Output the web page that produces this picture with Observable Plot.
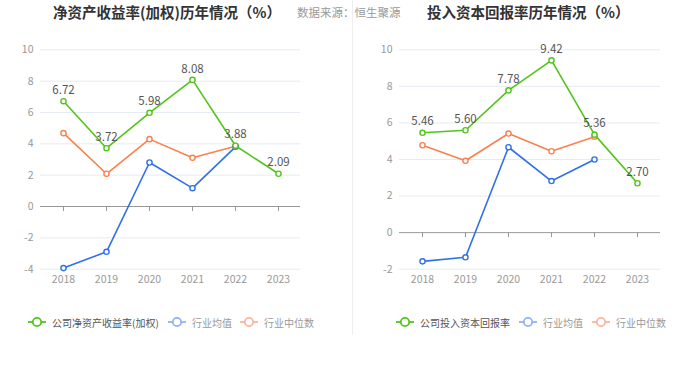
<!DOCTYPE html>
<html>
<head>
<meta charset="utf-8">
<script src="https://cdn.jsdelivr.net/npm/d3@7"></script>
<script src="https://cdn.jsdelivr.net/npm/@observablehq/plot@0.6"></script>
<style>
  html, body { margin: 0; padding: 0; background: #fff; }
  #wrap { position: relative; width: 700px; height: 377px; overflow: hidden; font-family: "Noto Sans CJK SC", "Noto Sans", sans-serif; }
  .title { position: absolute; top: 1px; font-size: 14.5px; font-weight: bold; color: #333; white-space: nowrap; line-height: 22px; }
  .source { position: absolute; top: 2px; font-size: 11.5px; color: #999; white-space: nowrap; line-height: 20px; }
  .plot { position: absolute; top: 0; }
  .sep { position: absolute; left: 352px; top: 0; width: 1px; height: 335px; background: #eeeeee; }
  .leg { position: absolute; top: 314px; height: 16px; display: flex; align-items: center; font-size: 10px; white-space: nowrap; }
  .leg svg { margin-right: 6px; }
</style>
</head>
<body>
<div id="wrap"></div>
<script>
const years = ["2018", "2019", "2020", "2021", "2022", "2023"];

const roeTitle = "净资产收益率(加权)历年情况（%）";
const roicTitle = "投入资本回报率历年情况（%）";
const sourceText = "数据来源：恒生聚源";

const roeCompanyName = "公司净资产收益率(加权)";
const roicCompanyName = "公司投入资本回报率";
const meanName = "行业均值";
const medianName = "行业中位数";

const roeCompany = [6.72, 3.72, 5.98, 8.08, 3.88, 2.09];
const roeMean    = [-3.93, -2.89, 2.81, 1.17, 3.81, null];
const roeMedian  = [4.68, 2.09, 4.30, 3.11, 3.85, null];

const roicCompany = [5.46, 5.60, 7.78, 9.42, 5.36, 2.70];
const roicMean    = [-1.57, -1.35, 4.67, 2.82, 4.00, null];
const roicMedian  = [4.78, 3.93, 5.42, 4.45, 5.25, null];

const roeTicks  = [-4, -2, 0, 2, 4, 6, 8, 10];
const roicTicks = [-2, 0, 2, 4, 6, 8, 10];

const GREEN = "#52c41a";
const BLUE = "#3070e8";
const ORANGE = "#fa8050";
const BLUE_L = "#8fb2f4";
const ORANGE_L = "#fcb49a";

const toRows = (vals) => years.map((year, i) => ({year, value: vals[i]})).filter(d => d.value != null);

function makeChart(company, mean, median, ticks, opts) {
  const c = toRows(company), m = toRows(mean), md = toRows(median);
  const serie = (rows, color) => [
    Plot.line(rows, {x: "year", y: "value", stroke: color, strokeWidth: 1.6}),
    Plot.dot(rows, {x: "year", y: "value", r: 2.6, fill: "white", stroke: color, strokeWidth: 1.4})
  ];
  return Plot.plot({
    width: 350,
    height: 300,
    marginTop: 49.3,
    marginBottom: 31.3,
    marginLeft: opts.marginLeft,
    marginRight: opts.marginRight,
    style: {fontFamily: "\"Noto Sans CJK SC\", \"Noto Sans\", sans-serif", fontSize: "10.5px", color: "#999", background: "transparent", overflow: "visible"},
    x: {type: "point", domain: years, padding: 0.5, label: null},
    y: {domain: [d3.min(ticks), d3.max(ticks)], ticks, label: null},
    marks: [
      Plot.ruleY(ticks.filter(t => t !== 0), {stroke: "#e6eaf2"}),
      Plot.ruleY([0], {stroke: "#999"}),
      Plot.ruleX(years, {x: d => d, y1: () => 0, y2: () => 0, insetBottom: -5, stroke: "#999"}),
      Plot.axisY({ticks, tickSize: 0, tickPadding: 7, fill: "#999", label: null, tickFormat: d => String(d)}),
      Plot.axisX({tickSize: 0, tickPadding: 6, fill: "#999", label: null}),
      ...serie(md, ORANGE),
      ...serie(m, BLUE),
      ...serie(c, GREEN),
      Plot.text(c, {x: "year", y: "value", text: d => d.value.toFixed(2), dy: -11, fill: "#555", fontSize: 11.5})
    ]
  });
}

const wrap = document.getElementById("wrap");

function addDiv(cls, text, left) {
  const d = document.createElement("div");
  d.className = cls;
  d.textContent = text;
  d.style.left = left + "px";
  wrap.appendChild(d);
  return d;
}

const p1 = makeChart(roeCompany, roeMean, roeMedian, roeTicks, {marginLeft: 40, marginRight: 50});
p1.classList.add("plot"); p1.style.left = "0px"; p1.style.position = "absolute"; p1.style.top = "0px";
wrap.appendChild(p1);

const p2 = makeChart(roicCompany, roicMean, roicMedian, roicTicks, {marginLeft: 49, marginRight: 40});
p2.classList.add("plot"); p2.style.left = "350px"; p2.style.position = "absolute"; p2.style.top = "0px";
wrap.appendChild(p2);

const sep = document.createElement("div"); sep.className = "sep"; wrap.appendChild(sep);

addDiv("title", roeTitle, 53);
addDiv("source", sourceText, 297);
addDiv("title", roicTitle, 427);

function legendItem(left, color, text, textColor) {
  const d = document.createElement("div");
  d.className = "leg";
  d.style.left = left + "px";
  d.innerHTML = `<svg width="18" height="12"><line x1="0" y1="6" x2="18" y2="6" stroke="${color}" stroke-width="1.8"/><circle cx="9" cy="6" r="4.2" fill="white" stroke="${color}" stroke-width="1.8"/></svg>`;
  const s = document.createElement("span");
  s.textContent = text; s.style.color = textColor;
  d.appendChild(s);
  wrap.appendChild(d);
}

legendItem(28, GREEN, roeCompanyName, "#555");
legendItem(168, BLUE_L, meanName, "#999");
legendItem(240, ORANGE_L, medianName, "#999");

legendItem(396, GREEN, roicCompanyName, "#555");
legendItem(519, BLUE_L, meanName, "#999");
legendItem(592, ORANGE_L, medianName, "#999");
</script>
</body>
</html>
